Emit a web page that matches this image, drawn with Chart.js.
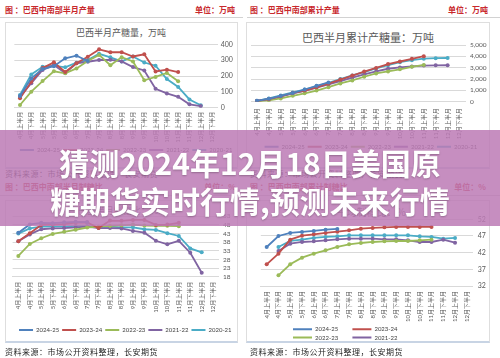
<!DOCTYPE html>
<html><head><meta charset="utf-8">
<script src="https://cdn.jsdelivr.net/npm/chart.js@4.4.1/dist/chart.umd.min.js"></script>
<style>
html,body{margin:0;padding:0;background:#fff;}
#root{position:relative;width:500px;height:358px;overflow:hidden;background:#fff;font-family:"Noto Sans CJK SC",sans-serif;}
.hdr{position:absolute;font-size:8px;font-weight:bold;color:#c8282c;line-height:10px;white-space:nowrap;}
.sep{position:absolute;height:1px;background:#d2d2d2;}
.box{position:absolute;border:1px solid #dedede;border-bottom:2px solid #c8d4e4;box-sizing:border-box;}
.ttl{position:absolute;color:#595959;white-space:nowrap;transform:translateX(-50%);line-height:1;}
.src{position:absolute;font-size:8px;color:#262626;letter-spacing:0.5px;white-space:nowrap;line-height:10px;}
canvas{position:absolute;}
#banner{position:absolute;left:0;top:130px;width:500px;height:96px;background:rgba(188,122,181,0.85);color:#fff;font-weight:bold;font-size:30px;line-height:38px;text-align:center;padding-top:13px;box-sizing:border-box;z-index:10;font-family:"Noto Sans CJK SC",sans-serif;text-shadow:0 1px 2px rgba(0,0,0,0.25);white-space:nowrap;}
</style></head>
<body>
<div id="root">
  <!-- top-left -->
  <div class="hdr" style="left:5px;top:5px;">图 ：巴西中南部半月产量</div>
  <div class="hdr" style="right:265px;top:5px;">单位：万吨</div>
  <div class="sep" style="left:0;top:17px;width:243px;"></div>
  <div class="box" style="left:5px;top:22px;width:233px;height:147px;"></div>
  <div class="ttl" style="left:121px;top:28px;font-size:9px;">巴西半月产糖量，万吨</div>
  <canvas id="c1" width="233" height="146" style="left:5px;top:22px;"></canvas>
  <div class="src" style="left:5px;top:169px;">资料来源：市场公开资料整理，长安期货</div>

  <!-- top-right -->
  <div class="hdr" style="left:250px;top:5px;">图 ：巴西中南部累计产量</div>
  <div class="hdr" style="right:12px;top:5px;">单位：万吨</div>
  <div class="sep" style="left:247px;top:17px;width:253px;"></div>
  <div class="box" style="left:246px;top:22px;width:244px;height:147px;"></div>
  <div class="ttl" style="left:368px;top:32px;font-size:11px;">巴西半月累计产糖量：万吨</div>
  <canvas id="c2" width="242" height="146" style="left:249px;top:22px;"></canvas>
  <div class="src" style="left:250px;top:169px;">资料来源：市场公开资料整理，长安期货</div>

  <!-- bottom-left -->
  <div class="hdr" style="left:5px;top:182px;">图 ：巴西中南部半月制糖比</div>
  <div class="hdr" style="right:264px;top:182px;">单位：%</div>
  <div class="sep" style="left:0;top:195px;width:243px;"></div>
  <div class="box" style="left:5px;top:200px;width:233px;height:143px;"></div>
  <div class="ttl" style="left:118px;top:206px;font-size:9px;">巴西半月制糖比：%</div>
  <canvas id="c3" width="233" height="150" style="left:5px;top:200px;"></canvas>
  <div class="src" style="left:5px;top:347px;">资料来源：市场公开资料整理，长安期货</div>

  <!-- bottom-right -->
  <div class="hdr" style="left:250px;top:182px;">图 ：巴西中南部累计制糖比</div>
  <div class="hdr" style="right:14px;top:182px;">单位：%</div>
  <div class="sep" style="left:247px;top:195px;width:253px;"></div>
  <div class="box" style="left:246px;top:200px;width:244px;height:143px;"></div>
  <div class="ttl" style="left:371px;top:207px;font-size:10px;">平均制糖比：%</div>
  <canvas id="c4" width="242" height="150" style="left:249px;top:200px;"></canvas>
  <div class="src" style="left:250px;top:347px;">资料来源：市场公开资料整理，长安期货</div>

  <div id="banner">猜测2024年12月18日美国原<br>糖期货实时行情,预测未来行情</div>
</div>
<script>
const FONT = "Lato, 'Noto Sans CJK SC', sans-serif";

const categories = ['4月上半月','4月下半月','5月上半月','5月下半月','6月上半月','6月下半月','7月上半月','7月下半月','8月上半月','8月下半月','9月上半月','9月下半月','10月上半月','10月下半月','11月上半月','11月下半月','12月上半月','12月下半月'];
const seasons = ['2024-25','2023-24','2022-23','2021-22','2020-21'];
const seasonColors = ['#4F81BD','#C0504D','#9BBB59','#8064A2','#4BACC6'];

// 巴西半月产糖量（万吨）
const prod2425 = [74, 185, 244, 262, 312, 328, 295];
const prod2324 = [59, 164, 250, 286, 225, 280, 322, 368, 350, 350, 323, 337, 229, 240, 225];
const prod2223 = [17, 101, 168, 230, 217, 248, 295, 333, 268, 319, 292, 173, 194, 219, 167];
const prod2122 = [69, 154, 238, 269, 219, 280, 290, 301, 302, 292, 256, 235, 119, 90, 69, 21, 10];
const prod2021 = [80, 210, 258, 265, 255, 284, 301, 340, 318, 292, 323, 285, 265, 181, 131, 52, 15];
const prodYTicks = [0, 100, 200, 300, 400];

// 巴西半月累计产糖量（万吨）
const cum2425 = [74, 260, 505, 765, 1075, 1400, 1700];
const cum2324 = [59, 225, 475, 760, 985, 1265, 1590, 1955, 2305, 2655, 2980, 3315, 3545, 3785, 4010];
const cum2223 = [17, 118, 285, 515, 735, 985, 1280, 1610, 1880, 2200, 2490, 2665, 2860, 3080, 3245];
const cum2122 = [69, 225, 460, 730, 950, 1230, 1520, 1820, 2120, 2410, 2670, 2905, 3025, 3115, 3185, 3205, 3215];
const cum2021 = [80, 290, 550, 815, 1070, 1355, 1655, 1995, 2315, 2605, 2930, 3215, 3480, 3660, 3790, 3840, 3855];
const cumYTicks = [0, 1000, 2000, 3000, 4000, 5000];

// 巴西半月制糖比（%）
const ratio2425 = [43.5, 48.3, 49.2, 49, 49.5, 49.8, 49.6];
const ratio2324 = [38.5, 43.2, 48, 48.2, 48.5, 49.3, 49.5, 46.2, 50.5, 50.4, 50.9, 50.9, 48, 48.2, 49.2];
const ratio2223 = [30, 37, 40.3, 42.8, 44, 45.2, 46.5, 47, 47.4, 47.8, 48.2, 47.6, 47.5, 47.5, 47.3];
const ratio2122 = [38.5, 42.5, 45.5, 46, 46.2, 46.6, 47, 46.2, 46.2, 46, 44.5, 43.5, 38.8, 36.8, 38.8, 31.9, 20.3];
const ratio2021 = [43, 46, 47, 47, 47, 47.4, 47.4, 46.6, 47, 46.6, 46.6, 45.5, 45.1, 43.2, 41.6, 34.4, 32.1];
const ratioYTicks = [18, 23, 28, 33, 38, 43, 48, 53];

// 平均（累计）制糖比（%）
const avg2425 = [43.7, 47, 47.9, 48.2, 48.5, 48.9, 49.1];
const avg2324 = [38.5, 41.7, 45.9, 47.1, 47.5, 47.9, 48.3, 48.7, 49.2, 49.4, 49.6, 49.7, 49.7, 49.7, 49.7];
const avg2223 = [null, 35.2, 38.5, 40.5, 41.7, 42.7, 43.7, 44.5, 44.9, 45.2, 45.4, 45.5, 45.5, 45.7, 45.9];
const avg2122 = [null, 42.5, 44.7, 45.2, 45.4, 45.7, 46, 46.2, 46.2, 46.2, 46, 46, 45.7, 45.2, 45.2, 45.9, 45];
const avg2021 = [null, 43.7, 45.5, 45.9, 46.4, 46.7, 46.9, 47.2, 47.2, 47.2, 47.2, 47.2, 47.2, 46.9, 46.7, 46.2, 46.4];
const avgYTicks = [32, 37, 42, 47, 52];

function build(id, seriesData, yTicks, cfg) {
  const datasets = seriesData.map((d, i) => ({
    label: seasons[i], data: d,
    borderColor: seasonColors[i], backgroundColor: seasonColors[i],
    pointBackgroundColor: seasonColors[i], pointBorderColor: seasonColors[i],
    borderWidth: 1.8, pointRadius: 2, pointBorderWidth: 0, pointHoverRadius: 2,
    tension: 0, spanGaps: false
  }));
  const plugins = [];
  if (cfg.legendBox) {
    plugins.push({id: 'legendShift', afterLayout(chart) {
      const lg = chart.legend;
      lg.left = cfg.legendBox[0]; lg.right = cfg.legendBox[1]; lg.width = lg.right - lg.left;
    }});
  }
  const hide = cfg.hideLegend || [];
  const suffix = cfg.legendSuffix || {};
  return new Chart(document.getElementById(id), {
    type: 'line',
    data: {labels: categories, datasets},
    options: {
      responsive: false, maintainAspectRatio: false, animation: false, devicePixelRatio: 1, events: [],
      layout: {padding: {left: cfg.pl, top: cfg.pt, right: 0, bottom: cfg.pb}},
      plugins: {
        legend: {
          position: 'bottom', align: cfg.legendAlign || 'center',
          labels: {
            boxWidth: cfg.bw || 14, boxHeight: 2, padding: cfg.lp, color: '#404040',
            font: {size: 6, family: FONT},
            generateLabels: (chart) => Chart.defaults.plugins.legend.labels.generateLabels(chart).map((it, k) => {
              it.lineWidth = 0;
              if (suffix[k]) it.text = it.text + suffix[k];
              return it;
            }),
            filter: (item) => !hide.includes(item.text.trim())
          }
        },
        tooltip: {enabled: false}
      },
      scales: {
        x: {
          offset: true,
          grid: {display: false, drawTicks: false},
          border: {display: true, color: '#d9d9d9', width: 1},
          ticks: {autoSkip: false, maxRotation: 90, minRotation: 90, padding: cfg.xp, color: '#595959', font: {size: 6, family: FONT}},
          afterFit: (s) => { s.height = cfg.xh; }
        },
        y: {
          position: 'right', min: yTicks[0], max: yTicks[yTicks.length - 1],
          ticks: {stepSize: yTicks[1] - yTicks[0], autoSkip: false, maxTicksLimit: 50, padding: cfg.yp, color: '#595959', font: {size: cfg.yf || 7, family: FONT}},
          grid: {color: '#d9d9d9', drawTicks: false},
          border: {display: false},
          afterFit: (s) => { s.width = cfg.yw; }
        }
      }
    },
    plugins
  });
}

const sp = '\u2002\u2002\u2002\u2002';
build('c1', [prod2425, prod2324, prod2223, prod2122, prod2021], prodYTicks,
  {pl: 9.35, pt: 22.3, pb: 5, lp: 3, xh: 36.3, xp: 4, yw: 20.3, yp: 3});
build('c2', [cum2425, cum2324, cum2223, cum2122, cum2021], cumYTicks,
  {pl: 1.7, pt: 23, pb: 8.3, lp: 3, xh: 39, xp: 6.5, yw: 25.5, yp: 4.5, yf: 6.5});
build('c3', [ratio2425, ratio2324, ratio2223, ratio2122, ratio2021], ratioYTicks,
  {pl: 7.6, pt: 16.3, pb: 7, lp: 3, xh: 47.3, xp: 5, yw: 19.1, yp: 4, yf: 6.5});
build('c4', [avg2425, avg2324, avg2223, avg2122, avg2021], avgYTicks,
  {pl: 11.8, pt: 19.3, pb: 7.7, lp: 2.3, xh: 38, xp: 5, yw: 18.3, yp: 5, bw: 19,
   legendAlign: 'start', legendBox: [41.7, 170], hideLegend: ['2020-21'], legendSuffix: {0: sp, 2: sp}});
</script>
</body></html>
